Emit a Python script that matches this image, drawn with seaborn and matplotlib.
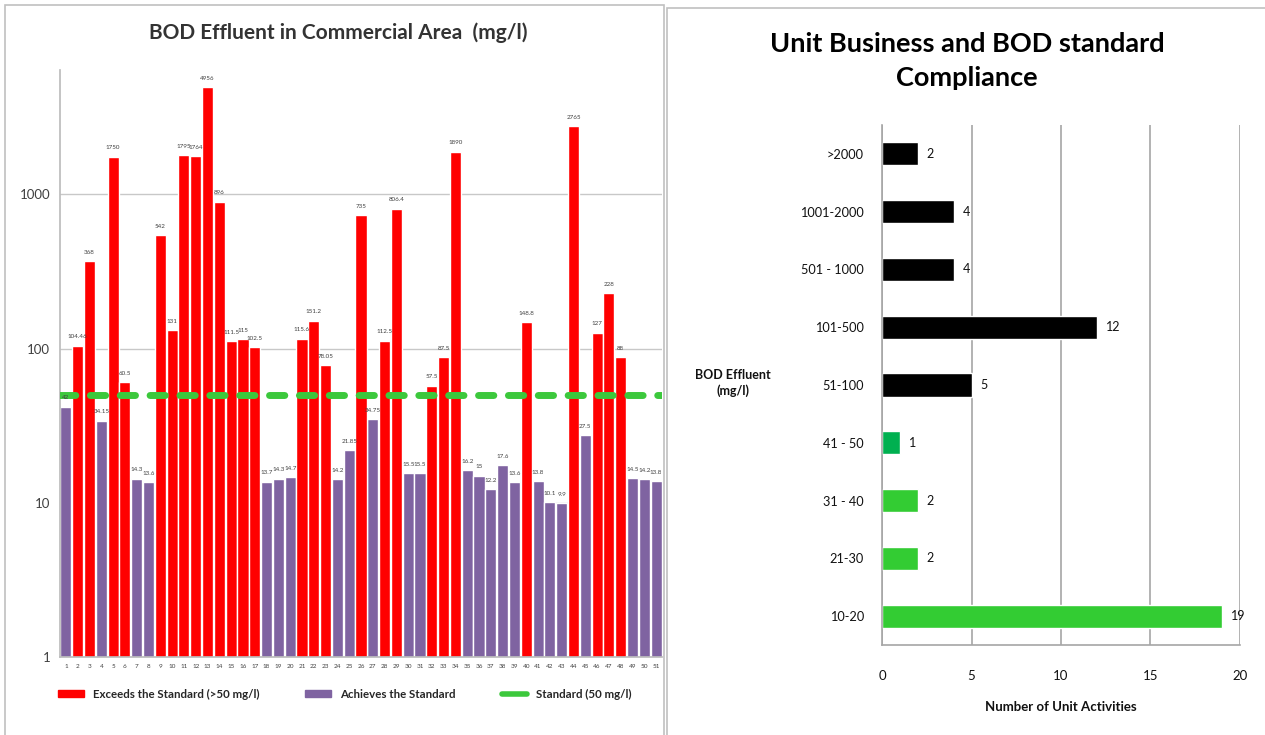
import matplotlib
matplotlib.use("Agg")
import matplotlib.pyplot as plt
import matplotlib.patches as mpatches
from matplotlib.lines import Line2D
import seaborn as sns
import pandas as pd

# ---------------- data ----------------
sample_ids = [str(i) for i in range(1, 52)]
bod_values = [42, 104.46, 368, 34.15, 1750, 60.5, 14.3, 13.6, 542, 131,
              1795, 1764, 4956, 896, 111.5, 115, 102.5, 13.7, 14.3, 14.7,
              115.6, 151.2, 78.05, 14.2, 21.85, 735, 34.75, 112.5, 806.4, 15.5,
              15.5, 57.5, 87.5, 1890, 16.2, 15, 12.2, 17.6, 13.6, 148.8,
              13.8, 10.1, 9.9, 2765, 27.5, 127, 228, 88, 14.5, 14.2,
              13.8]
standard_value = 50
status_exceeds = "Exceeds the Standard (>50 mg/l)"
status_achieves = "Achieves the Standard"
standard_label = "Standard (50 mg/l)"

range_labels = [">2000", "1001-2000", "501 - 1000", "101-500", "51-100",
                "41 - 50", "31 - 40", "21-30", "10-20"]
range_counts = [2, 4, 4, 12, 5, 1, 2, 2, 19]
range_colors = ["#000000", "#000000", "#000000", "#000000", "#000000",
                "#00b050", "#33cc33", "#33cc33", "#33cc33"]

# ---------------- style ----------------
sns.set_theme(style="white")
plt.rcParams['font.family'] = ['Lato', 'DejaVu Sans']

RED = "#ff0000"
PURPLE = "#7f63a1"
GREEN = "#3cc83c"
GRAY = "#404040"

fig = plt.figure(figsize=(12.65, 7.35), dpi=100)

# panel frames
W, H = 1265, 735
def frame(x0, y0, x1, y1):
    fig.patches.append(mpatches.Rectangle((x0 / W, 1 - y1 / H), (x1 - x0) / W, (y1 - y0) / H,
                                          transform=fig.transFigure, fill=False,
                                          edgecolor="#c0c0c0", lw=1.2, zorder=0))
frame(5, 5, 664, 738)
frame(667, 8, 1268, 738)

# ---------------- left chart ----------------
df = pd.DataFrame({
    "sample": sample_ids,
    "bod": bod_values,
    "status": [status_exceeds if v > standard_value else status_achieves for v in bod_values],
})

ax = fig.add_axes([60 / W, 1 - 657 / H, 602 / W, 587 / H])
sns.barplot(data=df, x="sample", y="bod", hue="status", dodge=False, width=0.94,
            palette={status_exceeds: RED, status_achieves: PURPLE}, saturation=1,
            legend=False, ax=ax, zorder=2)
ax.set_yscale("log")
ax.set_ylim(1, 6400)
ax.set_xlim(-0.5, len(sample_ids) - 0.5)
ax.set_yticks([1, 10, 100, 1000])
ax.set_yticklabels(["1", "10", "100", "1000"], fontsize=9.5, color=GRAY)
ax.minorticks_off()
ax.tick_params(axis="x", labelsize=4.6, colors=GRAY, length=0, pad=5)
ax.tick_params(axis="y", length=0, pad=7)
ax.set_xlabel("")
ax.set_ylabel("")
for yv in [10, 100, 1000]:
    ax.axhline(yv, color="#c8c8c8", lw=1, zorder=1)
for s in ["top", "right"]:
    ax.spines[s].set_visible(False)
ax.spines["left"].set_color("#bdbdbd")
ax.spines["bottom"].set_color("#bdbdbd")

for i, v in enumerate(bod_values):
    ax.text(i, v * 1.1, f"{v:g}", ha="center", va="bottom", fontsize=4.5, color=GRAY, zorder=4)

ax.axhline(standard_value, color=GREEN, lw=5, linestyle=(0, (2.2, 2.1)),
           dash_capstyle="round", zorder=3)

fig.text(338 / W, 1 - 33 / H, "BOD Effluent in Commercial Area  (mg/l)", ha="center",
         va="center", fontsize=15, fontweight="bold", color="#333333")

handles = [mpatches.Patch(color=RED, label=status_exceeds),
           mpatches.Patch(color=PURPLE, label=status_achieves),
           Line2D([0], [0], color=GREEN, lw=4, label=standard_label)]
fig.legend(handles=handles, loc="center", bbox_to_anchor=(345 / W, 1 - 694 / H), ncol=3,
           frameon=False, columnspacing=4.0, handlelength=2.2,
           handleheight=0.6, prop={"weight": "bold", "size": 8.3})

# ---------------- right chart ----------------
df2 = pd.DataFrame({"range": range_labels, "count": range_counts})
ax2 = fig.add_axes([882 / W, 1 - 645 / H, 358 / W, 520 / H])
sns.barplot(data=df2, y="range", x="count", hue="range", palette=range_colors,
            orient="h", width=0.4, saturation=1, legend=False, ax=ax2, zorder=2)
ax2.set_xlim(0, 20)
ax2.set_ylim(len(range_labels) - 0.5, -0.5)
ax2.set_xticks([0, 5, 10, 15, 20])
ax2.xaxis.grid(True, color="#a6a6a6", lw=1.2, zorder=0)
ax2.yaxis.grid(False)
ax2.set_axisbelow(True)
ax2.tick_params(axis="x", length=0, pad=18, labelsize=9.5, colors="#111111")
ax2.tick_params(axis="y", length=0, pad=13, labelsize=9.2, colors="#111111")
ax2.set_xlabel("")
ax2.set_ylabel("")
for s in ["top", "right"]:
    ax2.spines[s].set_visible(False)
ax2.spines["left"].set_color("#a6a6a6")
ax2.spines["bottom"].set_color("#a6a6a6")
ax2.spines["left"].set_linewidth(1.2)
ax2.spines["bottom"].set_linewidth(1.2)

for i, c in enumerate(range_counts):
    ax2.text(c + 0.5, i, str(c), ha="left", va="center", fontsize=9, color="#111111")

fig.text(967 / W, 1 - 61 / H, "Unit Business and BOD standard\nCompliance", ha="center",
         va="center", fontsize=19.5, fontweight="bold", color="#000000", linespacing=1.45)
fig.text(733 / W, 1 - 383 / H, "BOD Effluent\n(mg/l)", ha="center", va="center",
         fontsize=9, fontweight="bold", color="#111111", linespacing=1.4)
fig.text(1061 / W, 1 - 707 / H, "Number of Unit Activities", ha="center", va="center",
         fontsize=9.5, fontweight="bold", color="#111111")

fig.savefig("out.png", dpi=100)
